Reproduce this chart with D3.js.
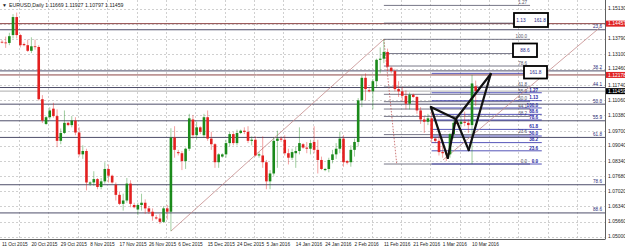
<!DOCTYPE html>
<html>
<head>
<meta charset="utf-8">
<title>EURUSD Daily</title>
<script src="https://cdn.jsdelivr.net/npm/d3@7"></script>
<style>
  body { margin: 0; background: #fff; }
  svg { display: block; font-family: "Liberation Sans", Arial, sans-serif; }
</style>
</head>
<body>
<script>
// daily bars, 11 Oct 2015 .. 11 Mar 2016 (Sunday bars included), [open, high, low, close]
var bars = [
  [1.1365,1.1372,1.1358,1.1362],[1.1362,1.1388,1.1338,1.1360],[1.1360,1.1405,1.1350,1.1390],
  [1.1395,1.1488,1.1380,1.1475],[1.1475,1.1495,1.1380,1.1395],[1.1395,1.1400,1.1340,1.1350],
  [1.1355,1.1362,1.1345,1.1350],[1.1350,1.1375,1.1320,1.1325],[1.1325,1.1385,1.1315,1.1345],
  [1.1345,1.1375,1.1330,1.1342],[1.1342,1.1350,1.1104,1.1110],[1.1110,1.1128,1.1004,1.1015],
  [1.1000,1.1035,1.0995,1.1030],[1.1030,1.1074,1.1020,1.1060],[1.1068,1.1094,1.1028,1.1035],
  [1.1035,1.1065,1.0897,1.0925],[1.0925,1.0980,1.0910,1.0960],[1.0960,1.1060,1.0955,1.1005],
  [1.1005,1.1010,1.0990,1.0995],[1.0995,1.1035,1.0985,1.1015],[1.1015,1.1030,1.0950,1.0962],
  [1.0962,1.0985,1.0855,1.0865],[1.0865,1.0905,1.0845,1.0880],[1.0880,1.0890,1.0705,1.0740],
  [1.0735,1.0745,1.0725,1.0740],[1.0740,1.0790,1.0725,1.0755],[1.0755,1.0760,1.0710,1.0720],
  [1.0720,1.0760,1.0710,1.0745],[1.0745,1.0830,1.0735,1.0800],[1.0800,1.0820,1.0740,1.0770],
  [1.0770,1.0775,1.0735,1.0740],[1.0730,1.0740,1.0660,1.0685],[1.0685,1.0700,1.0640,1.0645],
  [1.0645,1.0690,1.0615,1.0660],[1.0660,1.0760,1.0650,1.0735],[1.0735,1.0750,1.0630,1.0645],
  [1.0640,1.0650,1.0625,1.0630],[1.0620,1.0650,1.0595,1.0640],[1.0640,1.0690,1.0615,1.0650],
  [1.0650,1.0665,1.0600,1.0625],[1.0625,1.0635,1.0600,1.0610],[1.0610,1.0625,1.0570,1.0590],
  [1.0585,1.0595,1.0575,1.0580],[1.0580,1.0600,1.0556,1.0565],[1.0565,1.0635,1.0560,1.0625],
  [1.0625,1.0640,1.0575,1.0610],[1.0610,1.0981,1.0524,1.0940],[1.0940,1.0990,1.0850,1.0885],
  [1.0875,1.0885,1.0860,1.0870],[1.0870,1.0880,1.0795,1.0835],[1.0835,1.0895,1.0800,1.0890],
  [1.0890,1.1045,1.0880,1.1025],[1.1020,1.1040,1.0935,1.0950],[1.0950,1.1010,1.0930,1.0985],
  [1.0985,1.0990,1.0955,1.0965],[1.0950,1.1045,1.0940,1.1030],[1.1030,1.1060,1.0925,1.0935],
  [1.0935,1.0965,1.0885,1.0910],[1.0910,1.0915,1.0805,1.0830],[1.0830,1.0870,1.0805,1.0865],
  [1.0855,1.0870,1.0850,1.0865],[1.0865,1.0930,1.0850,1.0915],[1.0915,1.0965,1.0900,1.0955],
  [1.0955,1.0965,1.0905,1.0915],[1.0915,1.0975,1.0905,1.0960],[1.0960,1.0975,1.0955,1.0970],
  [1.0970,1.0985,1.0955,1.0965],[1.0965,1.0990,1.0915,1.0925],[1.0925,1.0945,1.0905,1.0930],
  [1.0930,1.0945,1.0855,1.0860],[1.0860,1.0875,1.0850,1.0865],[1.0860,1.0945,1.0805,1.0830],
  [1.0830,1.0840,1.0710,1.0745],[1.0745,1.0795,1.0710,1.0780],[1.0780,1.0940,1.0770,1.0925],
  [1.0925,1.0970,1.0805,1.0935],[1.0935,1.0945,1.0920,1.0930],[1.0930,1.0950,1.0860,1.0870],
  [1.0870,1.0890,1.0820,1.0850],[1.0850,1.0890,1.0840,1.0875],[1.0870,1.0900,1.0805,1.0880],
  [1.0880,1.0985,1.0865,1.0915],[1.0910,1.0915,1.0890,1.0895],[1.0895,1.0920,1.0870,1.0890],
  [1.0890,1.0930,1.0865,1.0915],[1.0920,1.0990,1.0870,1.0885],[1.0885,1.0930,1.0780,1.0840],
  [1.0840,1.0855,1.0795,1.0800],[1.0795,1.0805,1.0790,1.0800],[1.0800,1.0850,1.0785,1.0840],
  [1.0840,1.0885,1.0825,1.0865],[1.0865,1.0915,1.0845,1.0890],[1.0890,1.0965,1.0870,1.0935],
  [1.0935,1.0950,1.0810,1.0830],[1.0835,1.0840,1.0820,1.0828],[1.0830,1.0905,1.0810,1.0885],
  [1.0885,1.0935,1.0855,1.0920],[1.0920,1.1115,1.0900,1.1105],[1.1105,1.1215,1.1075,1.1205],
  [1.1205,1.1225,1.1105,1.1155],[1.1150,1.1160,1.1140,1.1145],[1.1145,1.1200,1.1065,1.1190],
  [1.1190,1.1290,1.1160,1.1285],[1.1285,1.1340,1.1225,1.1290],[1.1290,1.1376,1.1270,1.1320],
  [1.1320,1.1335,1.1235,1.1255],[1.1250,1.1255,1.1225,1.1235],[1.1235,1.1245,1.1145,1.1155],
  [1.1155,1.1190,1.1120,1.1145],[1.1145,1.1165,1.1100,1.1125],[1.1125,1.1150,1.1065,1.1090],
  [1.1090,1.1140,1.1065,1.1130],[1.1130,1.1135,1.1115,1.1120],[1.1120,1.1125,1.1045,1.1060],
  [1.1060,1.1075,1.1000,1.1020],[1.1020,1.1035,1.0960,1.1010],[1.1010,1.1045,1.0995,1.1025],
  [1.1025,1.1070,1.0915,1.0935],[1.0935,1.0940,1.0915,1.0925],[1.0925,1.0950,1.0860,1.0875],
  [1.0875,1.0905,1.0850,1.0870],[1.0870,1.0885,1.0835,1.0865],[1.0865,1.0960,1.0850,1.0955],
  [1.0955,1.1020,1.0935,1.1005],[1.1005,1.1010,1.0995,1.1000],[1.1000,1.1030,1.0985,1.1010],
  [1.1010,1.1055,1.0990,1.1005],[1.1005,1.1020,1.0960,1.0995],[1.0995,1.1218,1.0822,1.1180],
  [1.11669,1.11927,1.10797,1.11459]
];

var priceTicks = [1.15130,1.14450,1.13790,1.13100,1.12460,1.11740,1.11060,1.10380,
                  1.09700,1.09040,1.08340,1.07680,1.07020,1.06340,1.05660,1.05000];
var dateLabels = ["11 Oct 2015","20 Oct 2015","29 Oct 2015","8 Nov 2015","17 Nov 2015","26 Nov 2015",
                  "6 Dec 2015","15 Dec 2015","24 Dec 2015","5 Jan 2016","14 Jan 2016","24 Jan 2016",
                  "2 Feb 2016","11 Feb 2016","21 Feb 2016","1 Mar 2016","10 Mar 2016"];

// horizontal line objects
var hLines = [1.14457, 1.12178];
var lastPrice = 1.11459;

// big fibo (Aug 2015 high -> Mar 2015 low), 0 at top
var fibCAnchors = [1.1714, 1.0462];
var fibCLevels = [23.6, 38.2, 44.1, 50, 55.9, 61.8, 78.6, 88.6];
// fibo from 11 Feb high to 10 Mar low
var fibAAnchors = [1.0822, 1.1376];
var fibALevels = [0, 23.6, 38.2, 44.1, 50, 55.9, 61.8, 78.6, 88.6, 100, 113, 127.2];
var fibABoxed = [113, 88.6];
// XA fibo of the pattern
var fibBAnchors = [1.0822, 1.1071];
var fibBLevels = [0, 23.6, 38.2, 50, 61.8, 78.6, 88.6, 100, 113, 127.2, 161.8];
var fibBBoxed = [161.8];

// trend lines [bar, price]
var trend1 = [[46, 1.0524], [104, 1.1376]];
var trend2 = [[120.1, 1.0840], [163, 1.1431]];
var fibADiag = [[104, 1.1376], [107.5, 1.0822]];

// harmonic pattern X A B C D [bar, price]
var pattern = [[116.8, 1.1075], [121.4, 1.0849], [123.6, 1.1022], [127.1, 1.0884], [133.1, 1.1222]];

var W = 625, H = 248, plotR = 605, plotB = 239;
var x = d3.scaleLinear().domain([0, 164]).range([2, 2 + 3.672 * 164]);
var y = d3.scaleLinear().domain([1.05000, 1.15130]).range([236.5, 8.5]);

var svg = d3.select("body").append("svg").attr("width", W).attr("height", H);

svg.append("clipPath").attr("id", "plot")
  .append("rect").attr("x", 0).attr("y", 0).attr("width", plotR).attr("height", plotB);

var g = svg.append("g").attr("clip-path", "url(#plot)");

// grid
g.selectAll(".hg").data(priceTicks).enter().append("line")
  .attr("x1", 0).attr("x2", plotR)
  .attr("y1", function(d) { return Math.round(y(d)) + 0.5; })
  .attr("y2", function(d) { return Math.round(y(d)) + 0.5; })
  .attr("stroke", "#c4c4c4").attr("stroke-width", 0.8).attr("stroke-dasharray", "2,2");
g.selectAll(".vg").data(d3.range(4.63, 165, 8)).enter().append("line")
  .attr("x1", function(d) { return Math.round(x(d)) + 0.5; })
  .attr("x2", function(d) { return Math.round(x(d)) + 0.5; })
  .attr("y1", 0).attr("y2", plotB)
  .attr("stroke", "#c4c4c4").attr("stroke-width", 0.8).attr("stroke-dasharray", "2,2");

function fibLabel(p) {
  if (p === 113) return "1.13";
  if (p === 127.2) return "1.27";
  return p.toFixed(1);
}

// fib C: full width
var fibCPrice = function(p) { return fibCAnchors[0] - (fibCAnchors[0] - fibCAnchors[1]) * p / 100; };
g.selectAll(".fc").data(fibCLevels).enter().append("line")
  .attr("x1", 0).attr("x2", plotR)
  .attr("y1", function(d) { return y(fibCPrice(d)); })
  .attr("y2", function(d) { return y(fibCPrice(d)); })
  .attr("stroke", "#4e4e6a").attr("stroke-width", 1);
g.selectAll(".fct").data(fibCLevels).enter().append("text")
  .attr("x", 602).attr("y", function(d) { return y(fibCPrice(d)) - 1.5; })
  .attr("text-anchor", "end").attr("font-size", 4.6).attr("fill", "#2b2b7a")
  .text(fibLabel);

// horizontal lines
g.selectAll(".hl").data(hLines).enter().append("line")
  .attr("x1", 0).attr("x2", plotR)
  .attr("y1", function(d) { return y(d); }).attr("y2", function(d) { return y(d); })
  .attr("stroke", "#8c4444").attr("stroke-width", 1);
g.append("line").attr("x1", 0).attr("x2", plotR)
  .attr("y1", y(lastPrice)).attr("y2", y(lastPrice))
  .attr("stroke", "#8a8a8a").attr("stroke-width", 0.7);

// fib A and B (short); boxed levels get their label from the box
function drawFib(anchors, levels, boxed, x1, x2, color, labelEnd, weight) {
  var price = function(p) { return anchors[0] + (anchors[1] - anchors[0]) * p / 100; };
  g.selectAll(null).data(levels).enter().append("line")
    .attr("x1", x(x1)).attr("x2", x(x2))
    .attr("y1", function(d) { return y(price(d)); })
    .attr("y2", function(d) { return y(price(d)); })
    .attr("stroke", color).attr("stroke-width", 0.8);
  g.selectAll(null).data(levels.filter(function(p) { return boxed.indexOf(p) < 0; }))
    .enter().append("text")
    .attr("x", x(labelEnd)).attr("y", function(d) { return y(price(d)) - 1.2; })
    .attr("text-anchor", "end").attr("font-size", 4.6).attr("font-weight", weight)
    .attr("fill", color).text(fibLabel);
}
drawFib(fibAAnchors, fibALevels, fibABoxed, 104, 143.8, "#55556a", 143, "normal");
drawFib(fibBAnchors, fibBLevels, fibBBoxed, 117, 147, "#2a2aa6", 146, "bold");

// trend lines
var line = d3.line().x(function(d) { return x(d[0]); }).y(function(d) { return y(d[1]); });
g.append("path").attr("d", line(trend1)).attr("fill", "none")
  .attr("stroke", "#c48a8a").attr("stroke-width", 0.8);
g.append("path").attr("d", line(trend2)).attr("fill", "none")
  .attr("stroke", "#c48a8a").attr("stroke-width", 0.8);
g.append("path").attr("d", line(fibADiag)).attr("fill", "none")
  .attr("stroke", "#c05858").attr("stroke-width", 0.8).attr("stroke-dasharray", "1.5,1.5");

// candles
var up = "#1b8a1b", down = "#e32020";
var candle = g.selectAll(".c").data(bars).enter().append("g");
candle.append("line")
  .attr("x1", function(d, i) { return x(i); }).attr("x2", function(d, i) { return x(i); })
  .attr("y1", function(d) { return y(d[1]); }).attr("y2", function(d) { return y(d[2]); })
  .attr("stroke", function(d) { return d[3] >= d[0] ? up : down; })
  .attr("stroke-width", 0.7).attr("stroke-opacity", 0.6);
candle.append("rect")
  .attr("x", function(d, i) { return x(i) - 1.3; }).attr("width", 2.6)
  .attr("y", function(d) { return y(Math.max(d[0], d[3])); })
  .attr("height", function(d) { return Math.max(0.8, Math.abs(y(d[0]) - y(d[3]))); })
  .attr("fill", function(d) { return d[3] >= d[0] ? up : down; });

// harmonic pattern triangles XAB and BCD
var P = pattern;
var segs = [[P[0], P[1]], [P[1], P[2]], [P[0], P[2]], [P[2], P[3]], [P[3], P[4]], [P[2], P[4]]];
g.selectAll(".pat").data(segs).enter().append("path")
  .attr("d", line).attr("fill", "none")
  .attr("stroke", "#111").attr("stroke-width", 2.2).attr("stroke-linecap", "round");

// highlight boxes
var boxes = [
  {x: 514, y: 13, w: 34, h: 14, texts: [["1.13", 521], ["161.8", 540]]},
  {x: 513, y: 43.5, w: 24, h: 13.5, texts: [["88.6", 525]]},
  {x: 524, y: 66, w: 23, h: 12.5, texts: [["161.8", 535.5]]}
];
boxes.forEach(function(b) {
  g.append("rect").attr("x", b.x).attr("y", b.y).attr("width", b.w).attr("height", b.h)
    .attr("fill", "#fff").attr("stroke", "#000").attr("stroke-width", 1.8);
  b.texts.forEach(function(t) {
    g.append("text").attr("x", t[1]).attr("y", b.y + b.h / 2 + 1.7)
      .attr("text-anchor", "middle").attr("font-size", 4.8).attr("fill", "#2a2a8a").text(t[0]);
  });
});

// frame
svg.append("line").attr("x1", plotR + 0.5).attr("x2", plotR + 0.5).attr("y1", 0).attr("y2", plotB)
  .attr("stroke", "#606060").attr("stroke-width", 1);
svg.append("line").attr("x1", 0).attr("x2", plotR + 0.5).attr("y1", plotB + 0.5).attr("y2", plotB + 0.5)
  .attr("stroke", "#606060").attr("stroke-width", 1);

// price axis
svg.selectAll(".pt").data(priceTicks).enter().append("text")
  .attr("x", 608).attr("y", function(d) { return y(d) + 1.8; })
  .attr("font-size", 5).attr("fill", "#222").text(function(d) { return d.toFixed(5); });

function priceTag(v, bg) {
  svg.append("rect").attr("x", 606).attr("y", y(v) - 3).attr("width", 19).attr("height", 6).attr("fill", bg);
  svg.append("text").attr("x", 608).attr("y", y(v) + 1.8).attr("font-size", 5)
    .attr("fill", "#fff").text(v.toFixed(5));
}
hLines.forEach(function(v) { priceTag(v, "#e02424"); });
priceTag(lastPrice, "#000");

// time axis
svg.selectAll(".dt").data(dateLabels).enter().append("text")
  .attr("x", function(d, i) { return x(i * 8); }).attr("y", 246)
  .attr("font-size", 4.8).attr("fill", "#222").text(function(d) { return d; });

// title
var last = bars[bars.length - 1];
svg.append("text").attr("x", 2).attr("y", 7).attr("font-size", 5).attr("fill", "#222").text("\u25BC");
svg.append("text").attr("x", 9).attr("y", 7).attr("font-size", 5.2).attr("fill", "#222")
  .text("EURUSD,Daily  " + last.map(function(v) { return v.toFixed(5); }).join(" "));
</script>
</body>
</html>
